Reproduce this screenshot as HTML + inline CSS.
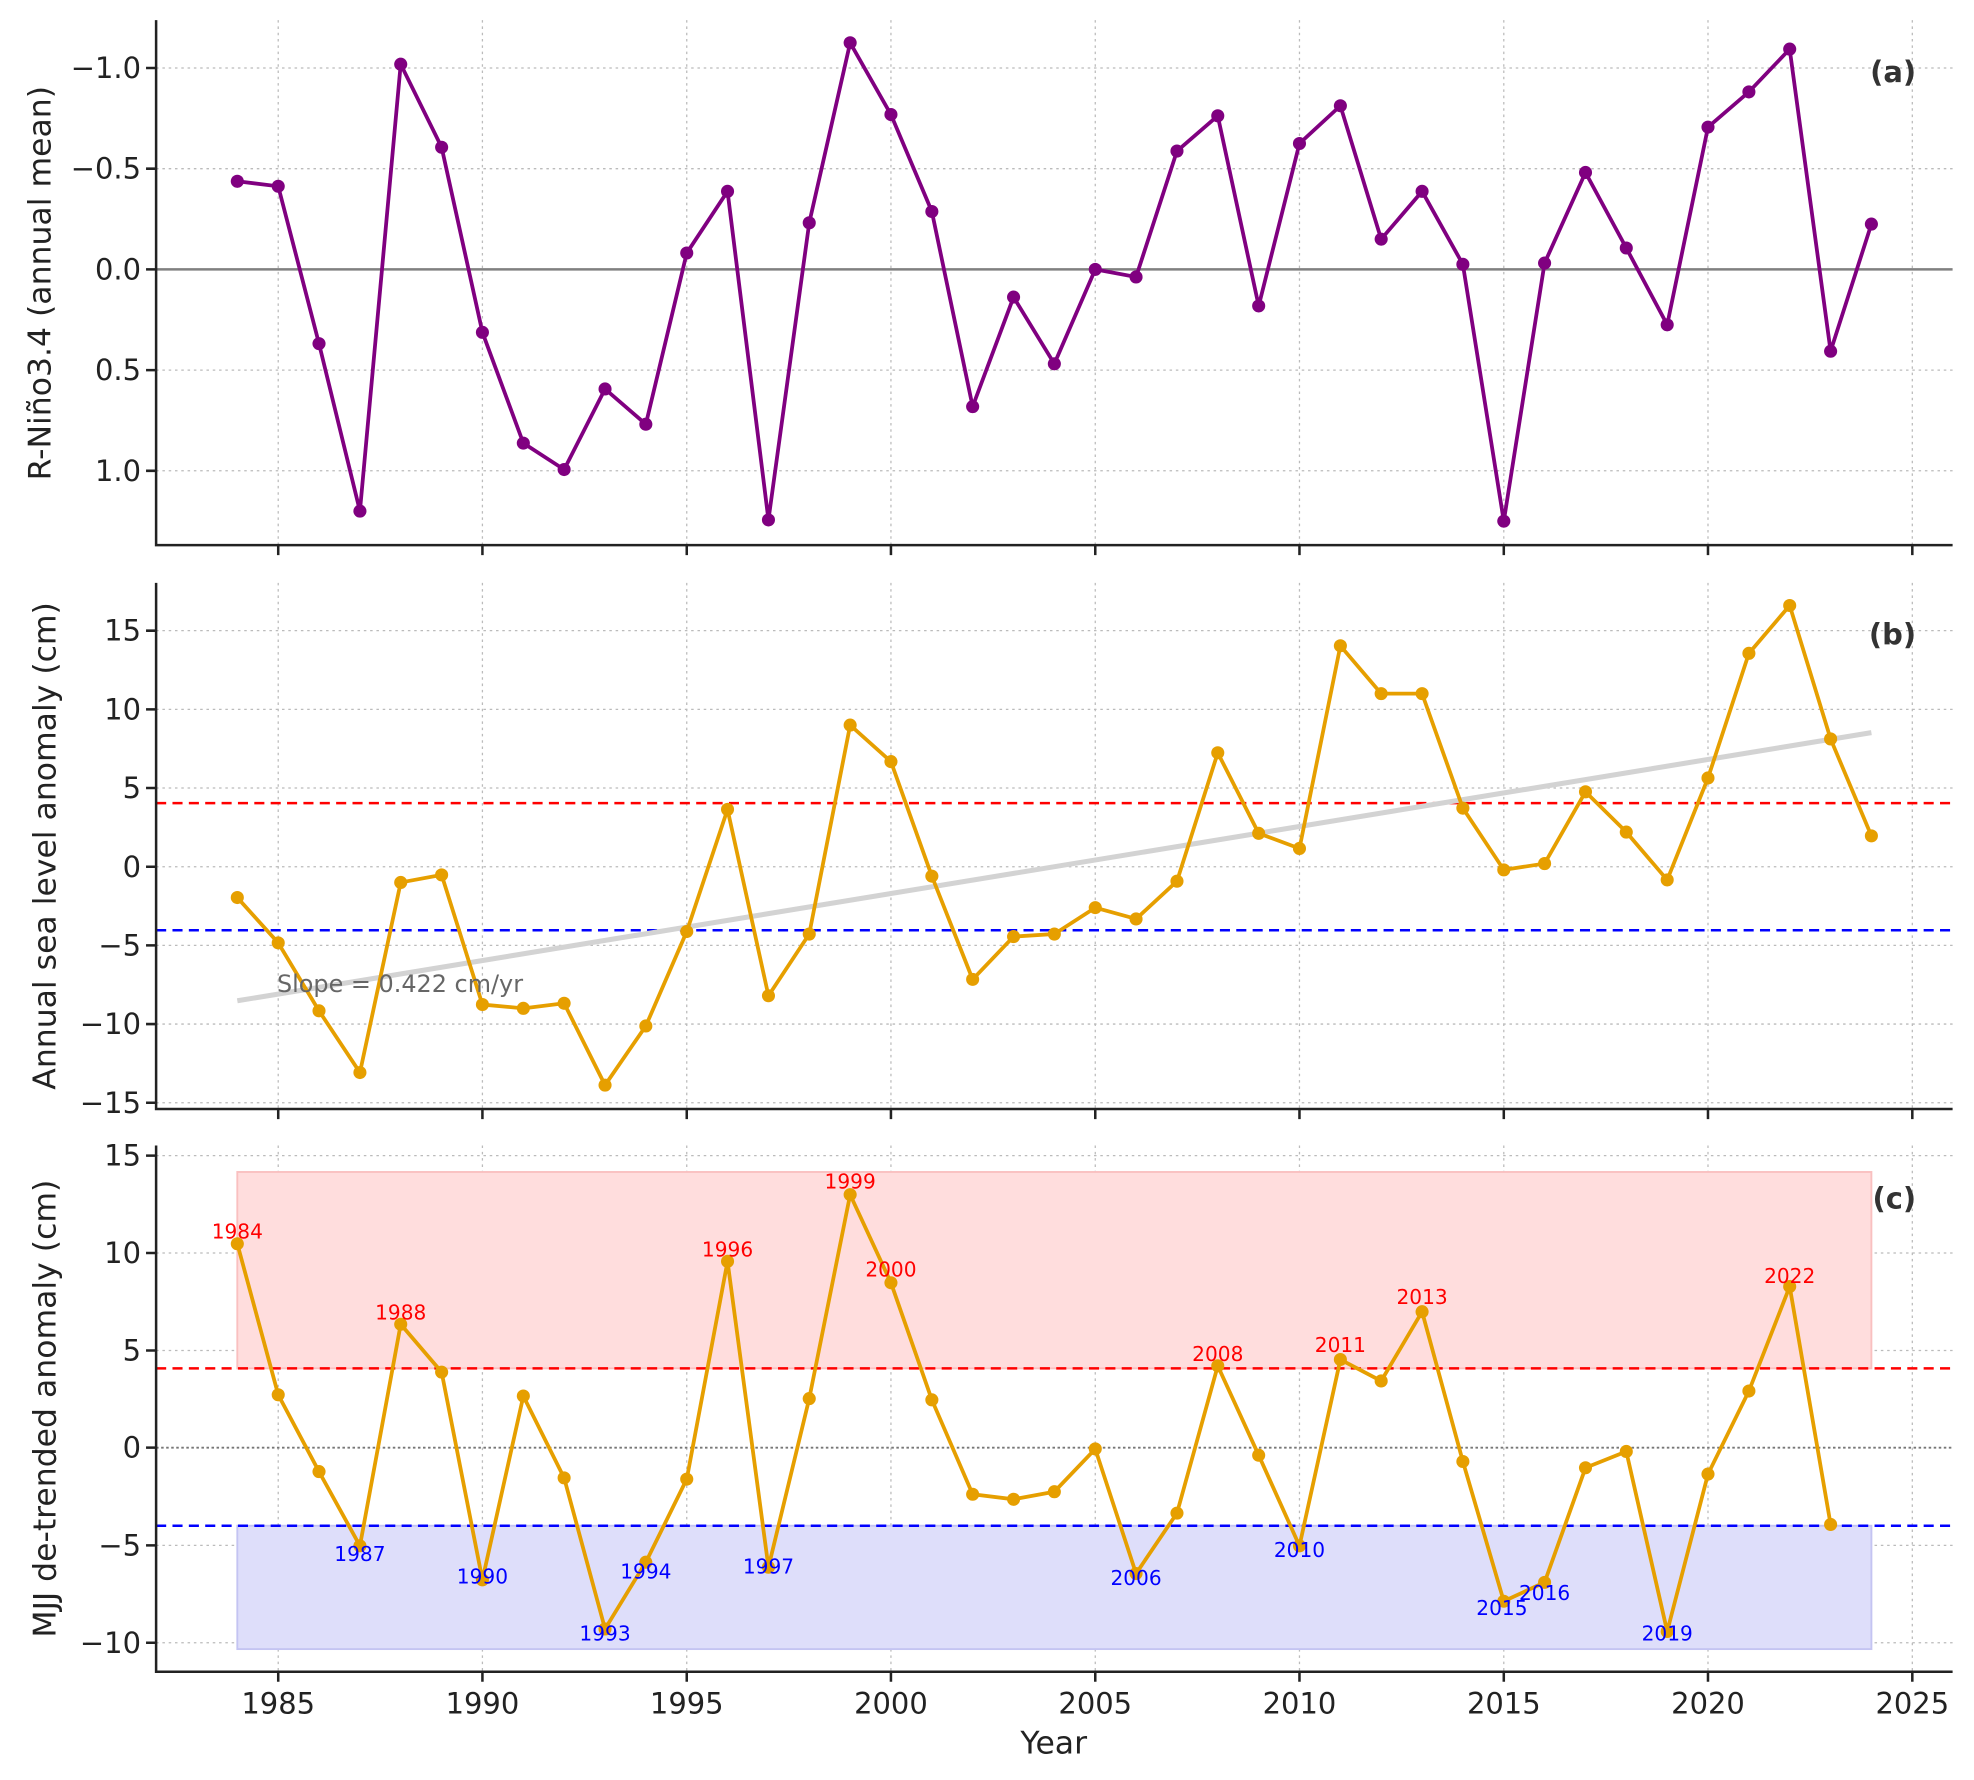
<!DOCTYPE html>
<html><head><meta charset="utf-8"><style>html,body{margin:0;padding:0;background:#fff}svg{display:block}text{font-family:"DejaVu Sans","Liberation Sans",sans-serif}</style></head><body>
<svg width="1974" height="1780" viewBox="0 0 1568 1414" preserveAspectRatio="none" xmlns="http://www.w3.org/2000/svg">
<defs>
<marker id="mp" markerUnits="userSpaceOnUse" markerWidth="12" markerHeight="12" refX="6" refY="6"><circle cx="6" cy="6" r="5.2" fill="#800080"/></marker>
<marker id="mo" markerUnits="userSpaceOnUse" markerWidth="12" markerHeight="12" refX="6" refY="6"><circle cx="6" cy="6" r="5.2" fill="#E69F00"/></marker>
</defs>
<g stroke="#bbb" stroke-width="1" stroke-dasharray="2,3">
<path d="M221 16V433M383.2 16V433M545.5 16V433M707.7 16V433M870 16V433M1032.2 16V433M1194.5 16V433M1356.7 16V433M1519 16V433"/>
<path d="M221 463V881M383.2 463V881M545.5 463V881M707.7 463V881M870 463V881M1032.2 463V881M1194.5 463V881M1356.7 463V881M1519 463V881"/>
<path d="M221 910V1328M383.2 910V1328M545.5 910V1328M707.7 910V1328M870 910V1328M1032.2 910V1328M1194.5 910V1328M1356.7 910V1328M1519 910V1328"/>
<path d="M124 54H1551M124 134H1551M124 294H1551M124 374H1551"/>
<path d="M124 501H1551M124 563.5H1551M124 626H1551M124 688.5H1551M124 751H1551M124 813.5H1551M124 876H1551"/>
<path d="M124 918H1551M124 995.4H1551M124 1072.8H1551M124 1227.6H1551M124 1305H1551"/>
</g>
<line x1="124" y1="214" x2="1551" y2="214" stroke="#808080" stroke-width="2"/>
<polyline fill="none" stroke="#800080" stroke-width="3" marker-start="url(#mp)" marker-mid="url(#mp)" marker-end="url(#mp)" points="188.5,144 221,148 253.4,273 285.9,406 318.3,51 350.8,117 383.2,264 415.7,352 448.1,373 480.6,309 513,337 545.5,201 577.9,152 610.4,413 642.8,177 675.3,34 707.7,91 740.2,168 772.6,323 805.1,236 837.5,289 870,214 902.4,220 934.9,120 967.3,92 999.8,243 1032.2,114 1064.7,84 1097.1,190 1129.6,152 1162,210 1194.5,414 1226.9,209 1259.4,137 1291.8,197 1324.3,258 1356.7,101 1389.2,73 1421.6,39 1454.1,279 1486.5,178"/>
<line x1="124" y1="638" x2="1551" y2="638" stroke="#f00" stroke-width="2" stroke-dasharray="8,5"/>
<line x1="124" y1="739" x2="1551" y2="739" stroke="#00f" stroke-width="2" stroke-dasharray="8,5"/>
<line x1="188.5" y1="795" x2="1486.5" y2="582" stroke="#d3d3d3" stroke-width="4"/>
<polyline fill="none" stroke="#E69F00" stroke-width="3" marker-start="url(#mo)" marker-mid="url(#mo)" marker-end="url(#mo)" points="188.5,713 221,749 253.4,803 285.9,852 318.3,701 350.8,695 383.2,798 415.7,801 448.1,797 480.6,862 513,815 545.5,740 577.9,643 610.4,791 642.8,742 675.3,576 707.7,605 740.2,696 772.6,778 805.1,744 837.5,742 870,721 902.4,730 934.9,700 967.3,598 999.8,662 1032.2,674 1064.7,513 1097.1,551 1129.6,551 1162,642 1194.5,691 1226.9,686 1259.4,629 1291.8,661 1324.3,699 1356.7,618 1389.2,519 1421.6,481 1454.1,587 1486.5,664"/>
<text x="220" y="788" font-size="19" fill="#666">Slope = 0.422 cm/yr</text>
<rect x="188.5" y="931" width="1298" height="156" fill="#fdd" stroke="#f9c0c0" stroke-width="1.5"/>
<rect x="188.5" y="1212" width="1298" height="98" fill="#dedefa" stroke="#c4c4f2" stroke-width="1.5"/>
<line x1="124" y1="1150" x2="1551" y2="1150" stroke="#777" stroke-width="1.5" stroke-dasharray="2,2"/>
<line x1="124" y1="1087" x2="1551" y2="1087" stroke="#f00" stroke-width="2" stroke-dasharray="8,5"/>
<line x1="124" y1="1212" x2="1551" y2="1212" stroke="#00f" stroke-width="2" stroke-dasharray="8,5"/>
<polyline fill="none" stroke="#E69F00" stroke-width="3" marker-start="url(#mo)" marker-mid="url(#mo)" marker-end="url(#mo)" points="188.5,988 221,1108 253.4,1169 285.9,1228 318.3,1052 350.8,1090 383.2,1255 415.7,1109 448.1,1174 480.6,1294 513,1241 545.5,1175 577.9,1002 610.4,1245 642.8,1111 675.3,949 707.7,1019 740.2,1112 772.6,1187 805.1,1191 837.5,1185 870,1151 902.4,1250 934.9,1202 967.3,1085 999.8,1156 1032.2,1228 1064.7,1080 1097.1,1097 1129.6,1042 1162,1161 1194.5,1272 1226.9,1257 1259.4,1166 1291.8,1153 1324.3,1296 1356.7,1171 1389.2,1105 1421.6,1022 1454.1,1211"/>
<g font-size="16" fill="#f00" text-anchor="middle">
<text x="188.5" y="984">1984</text><text x="318.3" y="1048">1988</text><text x="577.9" y="998">1996</text><text x="675.3" y="944">1999</text><text x="707.7" y="1014">2000</text><text x="967.3" y="1081">2008</text><text x="1064.7" y="1074">2011</text><text x="1129.6" y="1036">2013</text><text x="1421.6" y="1019">2022</text>
</g>
<g font-size="16" fill="#00f" text-anchor="middle">
<text x="285.9" y="1240">1987</text><text x="383.2" y="1258">1990</text><text x="480.6" y="1303">1993</text><text x="513" y="1254">1994</text><text x="610.4" y="1250">1997</text><text x="902.4" y="1259">2006</text><text x="1032.2" y="1237">2010</text><text x="1193" y="1283">2015</text><text x="1226.9" y="1271">2016</text><text x="1324.3" y="1303">2019</text>
</g>
<g stroke="#222" stroke-width="2" fill="none">
<path d="M124 16V433H1551M124 463V881H1551M124 910V1328H1551"/>
<path d="M221 433v8M383.2 433v8M545.5 433v8M707.7 433v8M870 433v8M1032.2 433v8M1194.5 433v8M1356.7 433v8M1519 433v8"/>
<path d="M221 881v8M383.2 881v8M545.5 881v8M707.7 881v8M870 881v8M1032.2 881v8M1194.5 881v8M1356.7 881v8M1519 881v8"/>
<path d="M221 1328v8M383.2 1328v8M545.5 1328v8M707.7 1328v8M870 1328v8M1032.2 1328v8M1194.5 1328v8M1356.7 1328v8M1519 1328v8"/>
<path d="M116 54h8M116 134h8M116 214h8M116 294h8M116 374h8"/>
<path d="M116 501h8M116 563.5h8M116 626h8M116 688.5h8M116 751h8M116 813.5h8M116 876h8"/>
<path d="M116 918h8M116 995.4h8M116 1072.8h8M116 1150h8M116 1227.6h8M116 1305h8"/>
</g>
<g font-size="23" fill="#222" text-anchor="end">
<text x="112" y="62">−1.0</text><text x="112" y="142">−0.5</text><text x="112" y="222">0.0</text><text x="112" y="302">0.5</text><text x="112" y="382">1.0</text>
<text x="112" y="509">15</text><text x="112" y="571.5">10</text><text x="112" y="634">5</text><text x="112" y="696.5">0</text><text x="112" y="759">−5</text><text x="112" y="821.5">−10</text><text x="112" y="884">−15</text>
<text x="112" y="926">15</text><text x="112" y="1003.4">10</text><text x="112" y="1080.8">5</text><text x="112" y="1158">0</text><text x="112" y="1235.6">−5</text><text x="112" y="1313">−10</text>
</g>
<g font-size="23" fill="#222" text-anchor="middle">
<text x="221" y="1361">1985</text><text x="383.2" y="1361">1990</text><text x="545.5" y="1361">1995</text><text x="707.7" y="1361">2000</text><text x="870" y="1361">2005</text><text x="1032.2" y="1361">2010</text><text x="1194.5" y="1361">2015</text><text x="1356.7" y="1361">2020</text><text x="1519" y="1361">2025</text>
<text x="837" y="1393" font-size="25">Year</text>
</g>
<g font-size="25" fill="#222" text-anchor="middle">
<text transform="translate(40,225) rotate(-90)">R-Niño3.4 (annual mean)</text>
<text transform="translate(44,672) rotate(-90)">Annual sea level anomaly (cm)</text>
<text transform="translate(44,1119) rotate(-90)">MJJ de-trended anomaly (cm)</text>
</g>
<g font-size="23" font-weight="bold" fill="#333" text-anchor="end">
<text x="1522" y="65">(a)</text><text x="1522" y="512">(b)</text><text x="1522" y="960">(c)</text>
</g>
</svg>
</body></html>
